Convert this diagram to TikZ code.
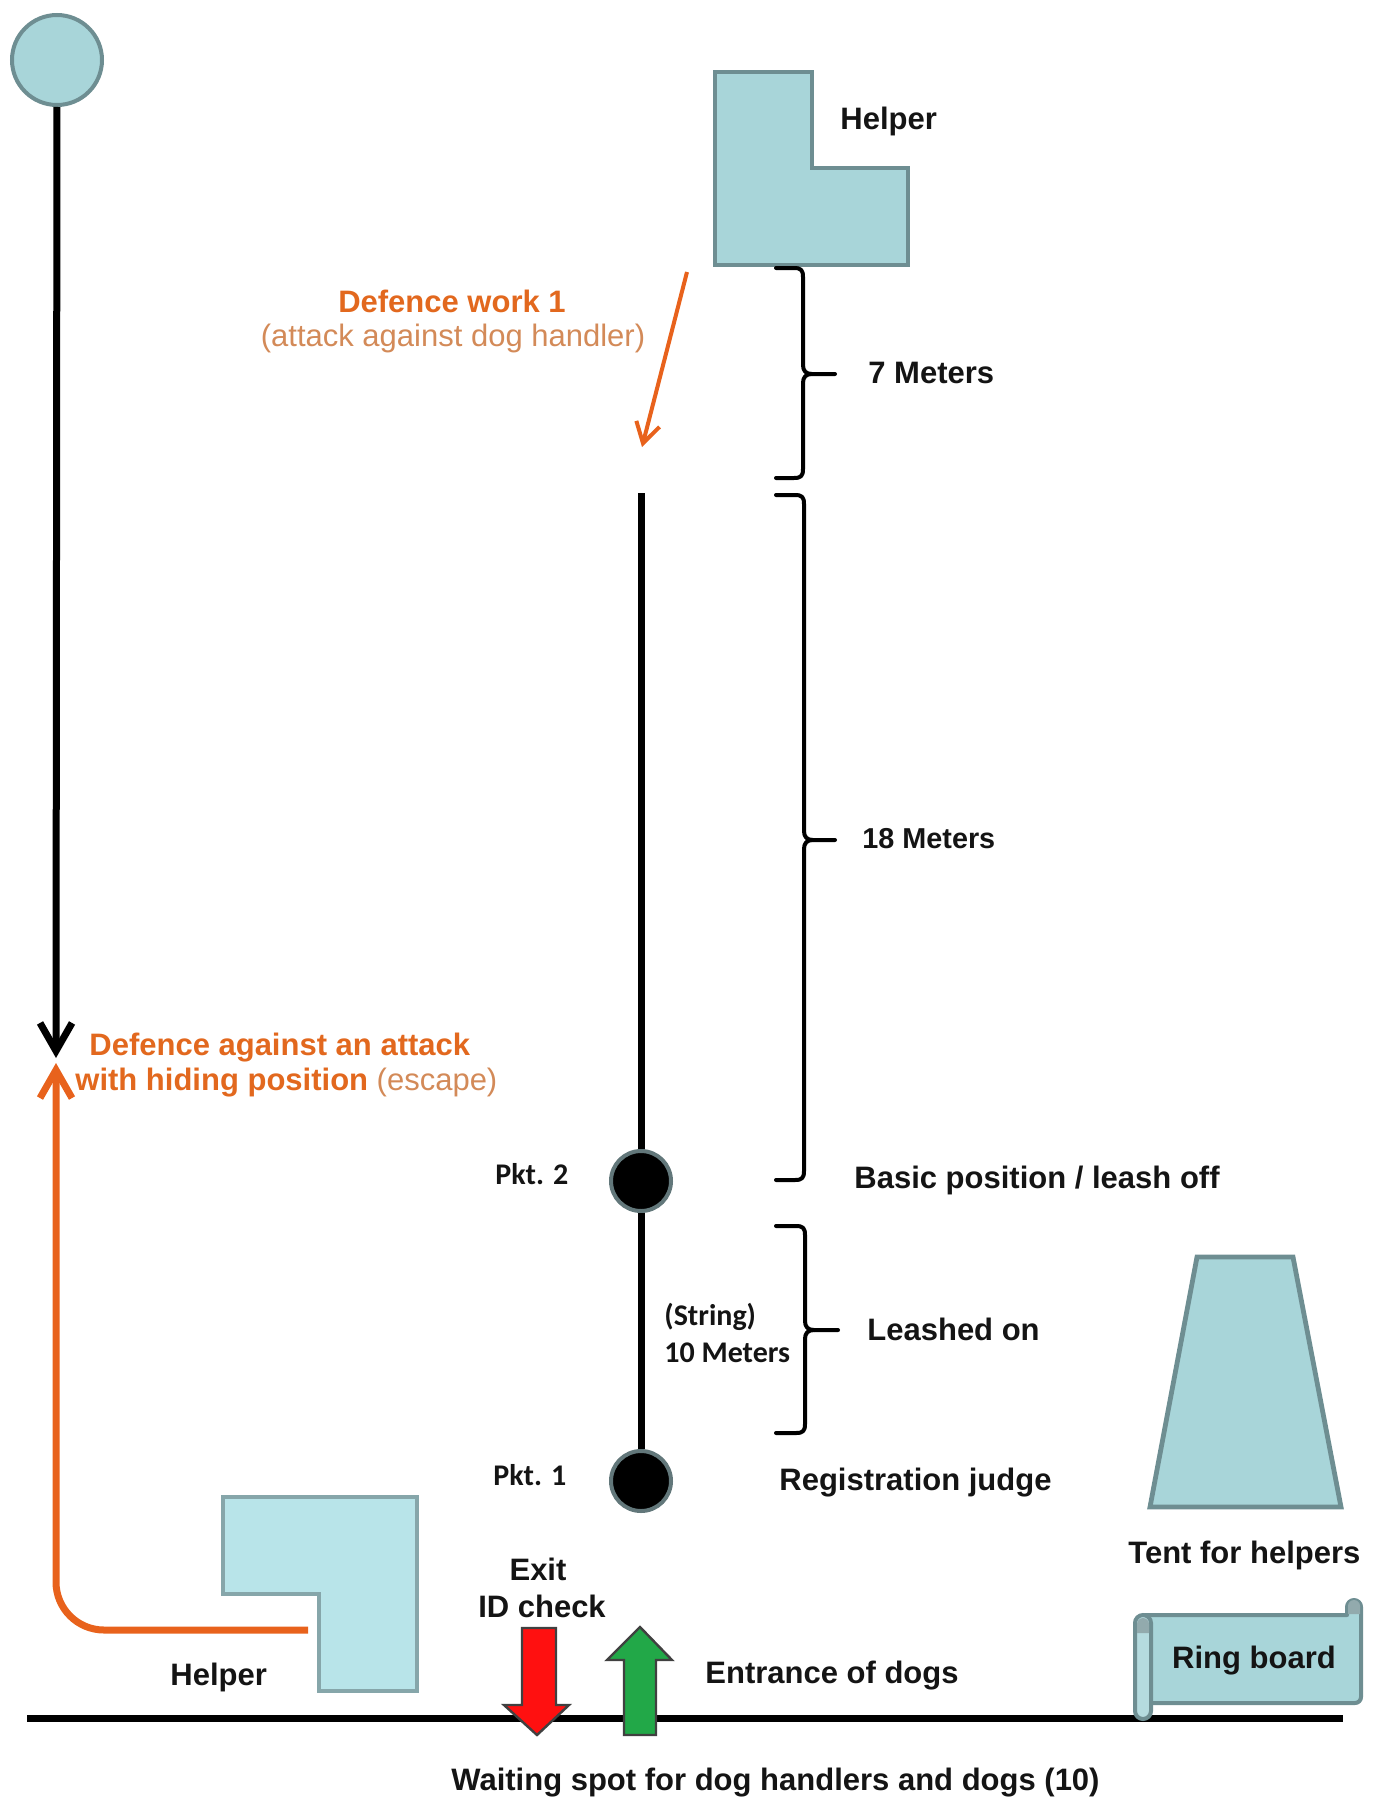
\documentclass[tikz,border=0pt]{standalone}
\usepackage{fontspec}
\setmainfont{Liberation Sans}
\newfontfamily\calib{Carlito}
\usetikzlibrary{arrows.meta}
\definecolor{tfill}{HTML}{A8D5D9}
\definecolor{tline}{HTML}{6E8E92}
\definecolor{tfillB}{HTML}{B8E4E9}
\definecolor{tlineB}{HTML}{86A6AA}
\definecolor{orng}{HTML}{E8621C}
\definecolor{orngtxt}{HTML}{E2681E}
\definecolor{orngsoft}{HTML}{D38A58}
\definecolor{redarrow}{HTML}{FF1010}
\definecolor{greenarrow}{HTML}{22A848}
\definecolor{pktline}{HTML}{62777A}
\definecolor{txt}{HTML}{141414}
\newcommand\drawbrace[6]{%
 \draw[bracesty] (#1,#4) -- (#2-9,#4) .. controls (#2-2,#4) and (#2,#4+2) .. (#2,#4+9) -- (#2,#5-9) .. controls (#2,#5-3) and (#2+3,#5) .. (#2+9,#5) -- (#3,#5);
 \draw[bracesty] (#2+9,#5) .. controls (#2+3,#5) and (#2,#5+3) .. (#2,#5+9) -- (#2,#6-9) .. controls (#2,#6-2) and (#2-2,#6) .. (#2-9,#6) -- (#1,#6);}
\begin{document}
\begin{tikzpicture}[x=0.5pt,y=-0.5pt,
  lbl/.style={font=\fontsize{15.5}{18}\selectfont\bfseries, inner sep=0pt, text=txt},
  olbl/.style={font=\fontsize{15.5}{18}\selectfont\bfseries, inner sep=0pt, text=orngtxt},
  slbl/.style={font=\fontsize{15.5}{18}\selectfont, inner sep=0pt, text=orngsoft},
  clbl/.style={font=\calib\fontsize{15}{18}\selectfont\bfseries, inner sep=0pt, text=txt},
  bracesty/.style={line width=2pt, black, line cap=round, line join=round},
  shapesty/.style={fill=tfill, draw=tline, line width=2.4pt, line join=miter},
  shapestyB/.style={fill=tfillB, draw=tlineB, line width=1.6pt},
  scrollsty/.style={fill=tfill, draw=tline, line width=2pt, line join=round},
  pkt/.style={circle, fill=black, draw=pktline, line width=2pt, minimum size=30pt, inner sep=0pt},
  mainline/.style={line width=3.5pt, black},
  blockarrow/.style={draw=black!75, line width=1.2pt, line join=miter}]
\useasboundingbox (0,0) rectangle (1375,1798);

% start circle and left arrow
\node[circle, fill=tfill, draw=tline, line width=2pt, minimum size=45pt, inner sep=0pt] (start) at (57,60) {};
\coordinate (meet) at (56,1058);
\draw[mainline, -{Straight Barb[length=14pt,width=16pt]}] (start) -- (meet);

% top helper
\draw[shapesty] (715,72) -- (812,72) -- (812,168) -- (908,168) -- (908,265) -- (715,265) -- cycle;
\node[lbl, anchor=base west] (helperT) at (840,130) {Helper};

% defence work 1
\node[olbl, anchor=base] (dw1) at (452,312) {Defence work 1};
\node[slbl, anchor=base] (dw1b) at (453,346) {(attack against dog handler)};
\coordinate (dwA) at (687,272);
\coordinate (dwB) at (642,447);
\draw[orng, line width=2pt, -{Straight Barb[length=10pt,width=12pt]}] (dwA) -- (dwB);

% main line and points
\coordinate (ltop) at (641,493);
\node[pkt] (p2) at (641,1181) {};
\node[pkt] (p1) at (641,1481) {};
\draw[mainline] (ltop) -- (p2);
\draw[mainline] (p2) -- (p1);
\node[clbl, anchor=base west] (pk2) at (495,1184) {Pkt. 2};
\node[clbl, anchor=base west] (pk1) at (493,1485) {Pkt. 1};

% braces
\drawbrace{776}{803}{835}{268}{374}{478}
\drawbrace{776}{804}{835}{495}{840}{1180}
\drawbrace{776}{805}{838}{1226}{1330}{1433}
\node[lbl, anchor=base west] (m7) at (868,383) {7 Meters};
\node[lbl, anchor=base west, font=\fontsize{14.4}{17}\selectfont\bfseries] (m18) at (862,848) {18 Meters};
\node[lbl, anchor=base west] (basic) at (854,1188) {Basic position / leash off};
\node[clbl, anchor=base west] (string) at (664,1325) {(String)};
\node[clbl, anchor=base west] (m10) at (664,1362) {10 Meters};
\node[lbl, anchor=base west] (leashed) at (867,1340) {Leashed on};
\node[lbl, anchor=base west] (reg) at (779,1490) {Registration judge};

% left defence label
\node[olbl, anchor=base west] (dag1) at (89,1055) {Defence against an attack};
\node[olbl, anchor=base west] (dag2) at (75,1090) {with hiding position \textcolor{orngsoft}{\mdseries (escape)}};

% bottom helper and orange escape path
\draw[shapestyB] (223,1497) -- (417,1497) -- (417,1691) -- (319,1691) -- (319,1594) -- (223,1594) -- cycle;
\node[lbl, anchor=base west] (helperB) at (170,1685) {Helper};
\coordinate (hstart) at (308,1630);
\coordinate (meet2) at (56,1063);
\draw[orng, line width=3.5pt, rounded corners=24, -{Straight Barb[length=14pt,width=16pt]}] (hstart) -- (56,1630) -- (meet2);

% tent
\draw[shapesty] (1197,1257) -- (1293,1257) -- (1341,1507) -- (1150,1507) -- cycle;
\node[lbl, anchor=base west] (tent) at (1128,1563) {Tent for helpers};

% baseline
\coordinate (bl) at (27,1718);
\coordinate (br) at (1343,1718);
\draw[line width=3.5pt, black] (bl) -- (br);

% ring board scroll
\draw[scrollsty] (1145,1615) -- (1347,1615) -- (1347,1607)
  arc[start angle=180, end angle=360, radius=7] -- (1361,1697)
  arc[start angle=0, end angle=90, radius=6] -- (1145,1703) -- cycle;
\fill[tline!75] (1348,1606) arc[start angle=180, end angle=360, radius=6] -- (1360,1614) -- (1348,1614) -- cycle;
\draw[fill=tfill!85!white, draw=tline, line width=2pt] (1135,1623) arc[start angle=180, end angle=360, radius=8] -- (1151,1711) arc[start angle=0, end angle=180, radius=8] -- cycle;
\fill[tline!75] (1137,1624) arc[start angle=180, end angle=360, radius=6] -- (1149,1633) -- (1137,1633) -- cycle;
\node[lbl, anchor=base] (ring) at (1254,1668) {Ring board};

% exit / entrance arrows
\draw[blockarrow, fill=redarrow] (522,1628) -- (556,1628) -- (556,1705) -- (569,1705) -- (537,1735) -- (504,1705) -- (522,1705) -- cycle;
\draw[blockarrow, fill=greenarrow] (640,1627) -- (672,1660) -- (656,1660) -- (656,1735) -- (624,1735) -- (624,1660) -- (607,1660) -- cycle;
\node[lbl, anchor=base] (exit) at (538,1580) {Exit};
\node[lbl, anchor=base] (idc) at (542,1617) {ID check};
\node[lbl, anchor=base west] (entr) at (705,1683) {Entrance of dogs};
\node[lbl, anchor=base west] (wait) at (451,1790) {Waiting spot for dog handlers and dogs (10)};
\end{tikzpicture}
\end{document}
